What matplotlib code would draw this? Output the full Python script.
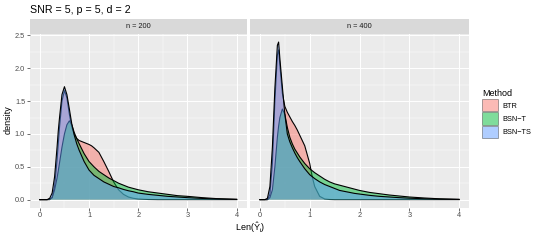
import matplotlib
matplotlib.use("Agg")
import matplotlib.pyplot as plt
from matplotlib.patches import Patch

plt.rcParams["font.family"] = ["Liberation Sans", "DejaVu Sans"]
plt.rcParams["mathtext.fontset"] = "custom"
plt.rcParams["mathtext.rm"] = "Liberation Sans"
plt.rcParams["mathtext.it"] = "Liberation Sans:italic"

# density curves, shared x grid
x_grid = [0, 0.1, 0.15, 0.2, 0.25, 0.3, 0.35, 0.375, 0.4, 0.45, 0.5, 0.55, 0.6,
          0.65, 0.7, 0.75, 0.8, 0.9, 1.0, 1.05, 1.1, 1.2, 1.3, 1.4, 1.5, 1.6,
          1.7, 1.8, 1.9, 2.0, 2.2, 2.4, 2.6, 2.8, 3.0, 3.3, 3.6, 4.0]

methods = ["BTR", "BSN\u2212T", "BSN\u2212TS"]
panels = ["n = 200", "n = 400"]

btr_200 = [0, 0, 0, 0, 0.03, 0.2, 0.6, 0.85, 1.1, 1.5, 1.66, 1.55, 1.3,
           1.1, 0.99, 0.93, 0.9, 0.87, 0.84, 0.82, 0.79, 0.72, 0.58, 0.43, 0.27, 0.15,
           0.08, 0.04, 0.02, 0.01, 0.002, 0, 0, 0, 0, 0, 0, 0]
bsnt_200 = [0, 0, 0, 0.01, 0.03, 0.15, 0.33, 0.44, 0.56, 0.8, 1.0, 1.14, 1.2,
            1.14, 1.02, 0.93, 0.85, 0.7, 0.58, 0.54, 0.5, 0.43, 0.38, 0.33, 0.29, 0.25,
            0.22, 0.19, 0.17, 0.15, 0.12, 0.1, 0.08, 0.06, 0.05, 0.03, 0.015, 0.005]
bsnts_200 = [0, 0, 0, 0.02, 0.1, 0.35, 0.8, 1.05, 1.25, 1.6, 1.72, 1.6, 1.38,
             1.15, 0.98, 0.85, 0.75, 0.58, 0.45, 0.41, 0.37, 0.32, 0.27, 0.235, 0.2, 0.18,
             0.155, 0.135, 0.12, 0.1, 0.08, 0.065, 0.05, 0.04, 0.03, 0.018, 0.01, 0.003]

btr_400 = [0, 0, 0, 0.08, 0.55, 1.5, 2.2, 2.28, 2.05, 1.62, 1.42, 1.33, 1.26,
           1.19, 1.13, 1.06, 0.98, 0.82, 0.55, 0.35, 0.2, 0.05, 0.01, 0.002, 0, 0,
           0, 0, 0, 0, 0, 0, 0, 0, 0, 0, 0, 0]
bsnt_400 = [0, 0, 0, 0.03, 0.15, 0.5, 0.95, 1.12, 1.25, 1.38, 1.3, 1.1, 0.95,
            0.85, 0.77, 0.71, 0.65, 0.55, 0.47, 0.44, 0.41, 0.36, 0.31, 0.27, 0.24, 0.22,
            0.2, 0.18, 0.16, 0.14, 0.11, 0.09, 0.07, 0.055, 0.04, 0.025, 0.013, 0.004]
bsnts_400 = [0, 0, 0.02, 0.2, 0.8, 1.7, 2.35, 2.4, 2.15, 1.72, 1.3, 1.0, 0.88,
             0.79, 0.71, 0.64, 0.58, 0.47, 0.38, 0.35, 0.32, 0.27, 0.23, 0.2, 0.17, 0.14,
             0.125, 0.11, 0.095, 0.085, 0.065, 0.05, 0.04, 0.03, 0.022, 0.013, 0.007, 0.003]

curves = {
    "n = 200": [btr_200, bsnt_200, bsnts_200],
    "n = 400": [btr_400, bsnt_400, bsnts_400],
}
colors = ["#F8766D", "#00BA38", "#619CFF"]

fig = plt.figure(figsize=(5.4, 2.4), dpi=100)
W, H = 540, 240


def frac(x0, y0, x1, y1):
    return [x0 / W, 1 - y1 / H, (x1 - x0) / W, (y1 - y0) / H]


boxes = [(30, 33.5, 246.5, 207.5), (250, 33.5, 469, 207.5)]

for i, (panel, box) in enumerate(zip(panels, boxes)):
    ax = fig.add_axes(frac(*box))
    ax.set_facecolor("#EBEBEB")
    for k, ys in enumerate(curves[panel]):
        ax.fill_between(x_grid, 0, ys, facecolor=colors[k], alpha=0.5,
                        linewidth=0, zorder=2 + 2 * k)
        ax.plot(x_grid, ys, color="black", lw=0.8, zorder=3 + 2 * k)
    ax.set_xlim(-0.2, 4.2)
    ax.set_ylim(-0.12, 2.53)
    ax.set_xticks([0, 1, 2, 3, 4])
    ax.set_xticks([0.5, 1.5, 2.5, 3.5], minor=True)
    ax.set_yticks([0, 0.5, 1.0, 1.5, 2.0, 2.5])
    ax.set_yticks([0.25, 0.75, 1.25, 1.75, 2.25], minor=True)
    ax.grid(which="major", color="white", lw=0.7, zorder=0)
    ax.grid(which="minor", color="white", lw=0.35, zorder=0)
    ax.set_axisbelow(True)
    for s in ax.spines.values():
        s.set_visible(False)
    ax.tick_params(which="minor", length=0)
    ax.tick_params(which="major", length=2, width=0.5, color="#333333",
                   labelsize=5.3, labelcolor="#4D4D4D", pad=1.5)
    if i == 0:
        ax.set_yticklabels(["0.0", "0.5", "1.0", "1.5", "2.0", "2.5"])
    else:
        ax.tick_params(axis="y", left=False, labelleft=False)

    # facet strip
    sx = fig.add_axes(frac(box[0], 19, box[2], 33.5))
    sx.set_facecolor("#D9D9D9")
    sx.set_xticks([])
    sx.set_yticks([])
    for s in sx.spines.values():
        s.set_visible(False)
    sx.text(0.5, 0.5, panel, ha="center", va="center", fontsize=5.3,
            color="#1A1A1A", transform=sx.transAxes)

fig.text(30 / W, 1 - 13 / H, "SNR = 5, p = 5, d = 2", fontsize=7.7,
         ha="left", va="baseline", color="black")
fig.text(8 / W, 1 - 120 / H, "density", rotation=90, fontsize=6.5,
         ha="center", va="center")
fig.text(250 / W, 1 - 228 / H, r"Len($\mathrm{\hat{Y}_i}$)", fontsize=6.5,
         ha="center", va="center")

handles = [Patch(facecolor=c, alpha=0.5, edgecolor="#333333", linewidth=0.6)
           for c in colors]
leg = fig.legend(handles, methods, title="Method", loc="upper left",
                 bbox_to_anchor=(479 / W, 1 - 86 / H), frameon=False,
                 fontsize=5.3, title_fontsize=6.5, handlelength=2.2,
                 handleheight=2.2, labelspacing=0.15, handletextpad=0.6,
                 borderaxespad=0)
leg._legend_box.align = "left"

fig.savefig("out.png", dpi=100)
